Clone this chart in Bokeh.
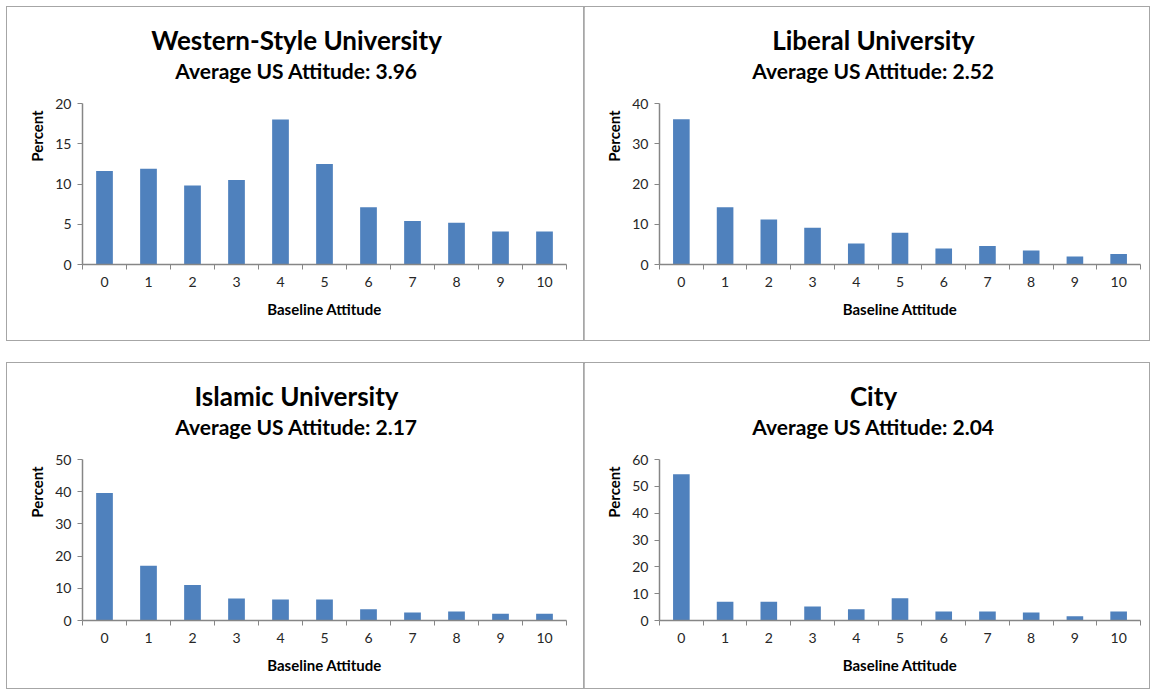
from bokeh.plotting import figure
from bokeh.layouts import column, row
from bokeh.models import Range1d, FixedTicker, Label, Spacer
from bokeh.embed import file_html
from bokeh.resources import INLINE

# ---- data ----
attitude = [0, 1, 2, 3, 4, 5, 6, 7, 8, 9, 10]

western_title = "Western-Style University"
western_sub = "Average US Attitude: 3.96"
western_pct = [11.6, 11.9, 9.8, 10.5, 18.0, 12.5, 7.1, 5.4, 5.2, 4.1, 4.1]
western_yticks = [0, 5, 10, 15, 20]

liberal_title = "Liberal University"
liberal_sub = "Average US Attitude: 2.52"
liberal_pct = [36.1, 14.2, 11.2, 9.1, 5.2, 7.9, 4.0, 4.6, 3.5, 2.0, 2.6]
liberal_yticks = [0, 10, 20, 30, 40]

islamic_title = "Islamic University"
islamic_sub = "Average US Attitude: 2.17"
islamic_pct = [39.6, 17.0, 11.0, 6.8, 6.5, 6.5, 3.5, 2.5, 2.8, 2.1, 2.1]
islamic_yticks = [0, 10, 20, 30, 40, 50]

city_title = "City"
city_sub = "Average US Attitude: 2.04"
city_pct = [54.5, 7.0, 7.0, 5.2, 4.2, 8.3, 3.4, 3.4, 3.0, 1.6, 3.4]
city_yticks = [0, 10, 20, 30, 40, 50, 60]

FONT = "Lato"
BAR = "#4F81BD"
AXIS = "#868686"
PLOT_H = 161      # pixel height of the value axis
HEAD_H = 96       # pixel space above the value axis for titles
TITLE_DY = 64     # title centre above the axis top (px)
SUB_DY = 33       # subtitle centre above the axis top (px)
TITLE_CX = 214    # title centre from the axis line (px)


def panel(title, sub, vals, yticks, width, height, left, right, bottom):
    ymax = yticks[-1]
    frame_h = PLOT_H + HEAD_H
    frame_w = width - left - right
    y_end = ymax * frame_h / PLOT_H
    p = figure(width=width, height=height, output_backend="svg", toolbar_location=None,
               title=None,
               x_range=Range1d(attitude[0] - 0.5, attitude[-1] + 0.5),
               y_range=Range1d(yticks[0], y_end),
               min_border_left=left, min_border_right=right,
               min_border_top=0, min_border_bottom=bottom,
               outline_line_color=None, background_fill_color="white",
               border_fill_color="white",
               styles={"outline": "1px solid #a6a6a6", "outline-offset": "0px"})
    p.vbar(x=attitude, top=vals, width=0.38, fill_color=BAR, line_color=None)
    p.xgrid.visible = False
    p.ygrid.visible = False

    xa = p.xaxis[0]
    bounds = [c - 0.5 for c in attitude] + [attitude[-1] + 0.5]
    xa.ticker = FixedTicker(ticks=attitude, minor_ticks=bounds)
    xa.major_tick_line_color = None
    xa.major_tick_out = 5
    xa.major_tick_in = 0
    xa.minor_tick_line_color = AXIS
    xa.minor_tick_out = 5
    xa.minor_tick_in = 0
    xa.axis_line_color = AXIS
    xa.axis_line_width = 1.5
    xa.major_label_standoff = 7
    xa.major_label_text_font = FONT
    xa.major_label_text_font_size = "14px"
    xa.major_label_text_color = "#262626"
    xa.axis_label = "Baseline Attitude"
    xa.axis_label_text_font = FONT
    xa.axis_label_text_font_style = "bold"
    xa.axis_label_text_font_size = "15px"
    xa.axis_label_text_color = "#000000"
    xa.axis_label_standoff = 10

    ya = p.yaxis[0]
    ya.ticker = FixedTicker(ticks=yticks)
    ya.bounds = (yticks[0], ymax)
    ya.minor_tick_line_color = None
    ya.major_tick_line_color = AXIS
    ya.major_tick_out = 5
    ya.major_tick_in = 0
    ya.axis_line_color = AXIS
    ya.axis_line_width = 1.5
    ya.major_label_standoff = 6
    ya.major_label_text_font = FONT
    ya.major_label_text_font_size = "14px"
    ya.major_label_text_color = "#262626"
    ya.axis_label = "Percent"
    ya.axis_label_text_font = FONT
    ya.axis_label_text_font_style = "bold"
    ya.axis_label_text_font_size = "15px"
    ya.axis_label_text_color = "#000000"
    ya.axis_label_standoff = 6

    xc = (attitude[0] + attitude[-1]) / 2
    dx = TITLE_CX - frame_w / 2
    p.add_layout(Label(x=xc, y=ymax * (PLOT_H + TITLE_DY) / PLOT_H, x_offset=dx,
                       text=title, text_align="center", text_baseline="middle",
                       text_font=FONT, text_font_style="bold",
                       text_font_size="26px", text_color="#000000"))
    p.add_layout(Label(x=xc, y=ymax * (PLOT_H + SUB_DY) / PLOT_H, x_offset=dx,
                       text=sub, text_align="center", text_baseline="middle",
                       text_font=FONT, text_font_style="bold",
                       text_font_size="21px", text_color="#000000"))
    return p


p1 = panel(western_title, western_sub, western_pct, western_yticks, 577, 333, 75, 18, 76)
p2 = panel(liberal_title, liberal_sub, liberal_pct, liberal_yticks, 565, 333, 75, 9, 76)
p3 = panel(islamic_title, islamic_sub, islamic_pct, islamic_yticks, 577, 325, 75, 18, 68)
p4 = panel(city_title, city_sub, city_pct, city_yticks, 565, 325, 75, 9, 68)

layout = column(Spacer(height=7),
                row(Spacer(width=7), p1, p2, spacing=0),
                Spacer(height=23),
                row(Spacer(width=7), p3, p4, spacing=0), spacing=0)

open("out.html", "w").write(file_html(layout, INLINE))
